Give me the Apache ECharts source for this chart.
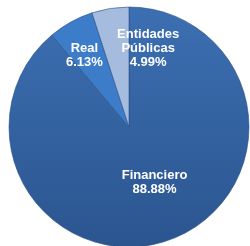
<!DOCTYPE html>
<html>
<head>
<meta charset="utf-8">
<script src="https://cdn.jsdelivr.net/npm/echarts@6/dist/echarts.min.js"></script>
<style>
  html, body { margin: 0; padding: 0; background: #fff; }
  #chart { width: 250px; height: 246px; }
</style>
</head>
<body>
<div id="chart"></div>
<script>
const categories = ['Financiero', 'Real', 'Entidades Públicas'];
const labelNames = ['Financiero', 'Real', 'Entidades\nPúblicas'];
const shares = [88.88, 6.13, 4.99];

// label nudges from the default inside position
const labelShift = [[4, -4], [-14, -16], [29, -16]];

const chart = echarts.init(document.getElementById('chart'));

const colors = [
  new echarts.graphic.LinearGradient(0, 0, 0, 1, [
    { offset: 0, color: '#3c6fb2' },
    { offset: 1, color: '#2b558f' }
  ]),
  '#3d7cc9',
  '#a6bcdf'
];

chart.setOption({
  animation: false,
  series: [
    {
      type: 'pie',
      center: [129, 127],
      radius: [0, 120],
      startAngle: 90,
      clockwise: true,
      data: categories.map((name, i) => ({
        name: name,
        value: shares[i],
        itemStyle: { color: colors[i] }
      })),
      itemStyle: {
        borderColor: '#2a4f86',
        borderWidth: 0.6
      },
      label: {
        show: true,
        position: 'inside',
        color: '#fff',
        fontFamily: 'Liberation Sans, Arial, sans-serif',
        fontWeight: 'bold',
        fontSize: 13,
        lineHeight: 14,
        align: 'center',
        formatter: p => labelNames[p.dataIndex] + '\n' + p.value.toFixed(2) + '%'
      },
      labelLine: { show: false },
      emphasis: { disabled: true }
    }
  ]
});

chart.setOption({
  series: [{
    labelLayout: p => ({ dx: labelShift[p.dataIndex][0], dy: labelShift[p.dataIndex][1] })
  }]
});
</script>
</body>
</html>
